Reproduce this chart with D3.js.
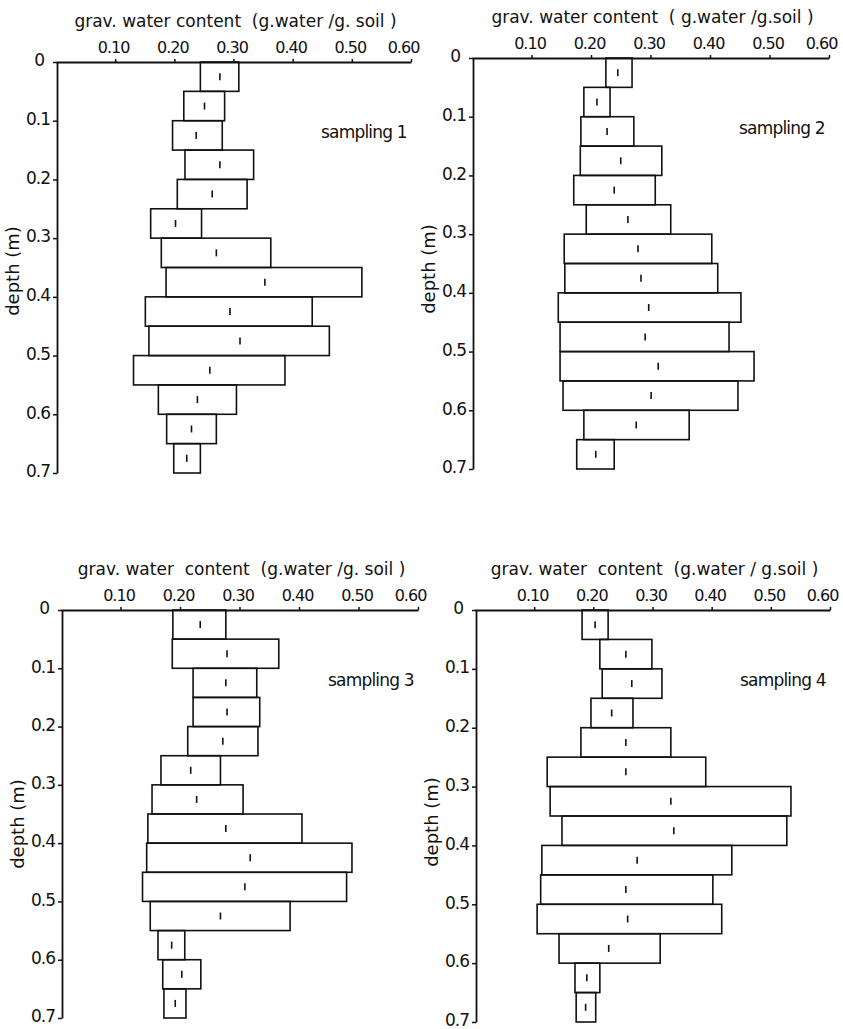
<!DOCTYPE html>
<html>
<head>
<meta charset="utf-8">
<script src="https://cdn.jsdelivr.net/npm/d3@7"></script>
<style>
  html, body { margin: 0; padding: 0; background: #fff; }
  svg { display: block; }
  text { font-family: "DejaVu Sans", "Liberation Sans", sans-serif; fill: #111; }
</style>
</head>
<body>
<svg id="chart" width="843" height="1029"></svg>
<script>
// Soil layers: top depth of each 0.05 m layer (m)
const layerTops = [0, 0.05, 0.10, 0.15, 0.20, 0.25, 0.30, 0.35, 0.40, 0.45, 0.50, 0.55, 0.60, 0.65];
const layerThickness = 0.05;

// Gravimetric water content (g water / g soil) per layer: minimum, maximum, mean
const s1Min  = [0.244, 0.216, 0.197, 0.218, 0.205, 0.160, 0.178, 0.186, 0.151, 0.157, 0.131, 0.173, 0.187, 0.199];
const s1Max  = [0.309, 0.285, 0.281, 0.334, 0.323, 0.246, 0.363, 0.517, 0.433, 0.462, 0.387, 0.305, 0.271, 0.244];
const s1Mean = [0.277, 0.251, 0.237, 0.277, 0.264, 0.202, 0.271, 0.353, 0.294, 0.311, 0.260, 0.239, 0.229, 0.221];

const s2Min  = [0.225, 0.188, 0.183, 0.182, 0.171, 0.192, 0.155, 0.156, 0.145, 0.148, 0.148, 0.153, 0.188, 0.176];
const s2Max  = [0.269, 0.232, 0.272, 0.319, 0.308, 0.334, 0.403, 0.413, 0.452, 0.432, 0.474, 0.447, 0.365, 0.239];
const s2Mean = [0.245, 0.210, 0.227, 0.250, 0.239, 0.262, 0.279, 0.284, 0.297, 0.291, 0.313, 0.301, 0.276, 0.208];

const s3Min  = [0.188, 0.187, 0.222, 0.222, 0.213, 0.168, 0.153, 0.146, 0.144, 0.137, 0.150, 0.163, 0.171, 0.173];
const s3Max  = [0.277, 0.366, 0.329, 0.334, 0.331, 0.268, 0.306, 0.405, 0.489, 0.480, 0.385, 0.208, 0.235, 0.210];
const s3Mean = [0.234, 0.279, 0.277, 0.279, 0.272, 0.218, 0.228, 0.277, 0.318, 0.309, 0.268, 0.186, 0.203, 0.192];

const s4Min  = [0.181, 0.211, 0.215, 0.196, 0.179, 0.122, 0.127, 0.147, 0.113, 0.111, 0.105, 0.142, 0.169, 0.171];
const s4Max  = [0.225, 0.299, 0.316, 0.267, 0.331, 0.390, 0.534, 0.527, 0.434, 0.402, 0.417, 0.313, 0.211, 0.204];
const s4Mean = [0.203, 0.255, 0.265, 0.231, 0.255, 0.255, 0.331, 0.336, 0.274, 0.255, 0.258, 0.226, 0.189, 0.187];

// Axis ticks and labels
const xTicks = [0.10, 0.20, 0.30, 0.40, 0.50, 0.60];
const yTicks = [0, 0.1, 0.2, 0.3, 0.4, 0.5, 0.6, 0.7];
const samplingLabels = ["sampling 1", "sampling 2", "sampling 3", "sampling 4"];
const xTitles = [
  "grav. water content  (g.water /g. soil )",
  "grav. water content  ( g.water /g.soil )",
  "grav. water  content  (g.water /g. soil )",
  "grav. water  content  (g.water / g.soil )"
];
const yTitle = "depth (m)";

const series = [
  { min: s1Min, max: s1Max, mean: s1Mean },
  { min: s2Min, max: s2Max, mean: s2Mean },
  { min: s3Min, max: s3Max, mean: s3Mean },
  { min: s4Min, max: s4Max, mean: s4Mean }
];

// Panel placement: origin of each plot frame and its extent in pixels
const panels = [
  { left: 56,  top: 62,  width: 355, height: 411, depthLabelY: 271 },
  { left: 472, top: 58,  width: 357, height: 411, depthLabelY: 269 },
  { left: 61,  top: 610, width: 357, height: 408, depthLabelY: 824 },
  { left: 475, top: 610, width: 355, height: 412, depthLabelY: 822 }
];

const svg = d3.select("#chart");
const ink = "#111";

panels.forEach((p, i) => {
  const data = layerTops.map((d, k) => ({
    top: d,
    bottom: d + layerThickness,
    min: series[i].min[k],
    max: series[i].max[k],
    mean: series[i].mean[k]
  }));

  const x = d3.scaleLinear().domain([0, 0.6]).range([p.left, p.left + p.width]);
  const y = d3.scaleLinear().domain([0, 0.7]).range([p.top, p.top + p.height]);

  const g = svg.append("g");

  // Top axis: water content
  const xAxis = g.append("g")
    .attr("transform", `translate(0,${p.top})`)
    .call(d3.axisTop(x)
      .tickValues(xTicks)
      .tickFormat(d3.format(".2f"))
      .tickSize(3)
      .tickSizeOuter(0)
      .tickPadding(6));
  xAxis.select(".domain").attr("stroke", ink).attr("stroke-width", 1.8);
  xAxis.selectAll(".tick line").attr("stroke", ink).attr("stroke-width", 1.5);
  xAxis.selectAll(".tick text")
    .attr("fill", ink)
    .attr("dx", d => d >= 0.6 ? -8 : -2)
    .style("font-size", "16px")
    .style("letter-spacing", "-1px");

  // Left axis: depth
  const yAxis = g.append("g")
    .attr("transform", `translate(${p.left + 1},0)`)
    .call(d3.axisLeft(y)
      .tickValues(yTicks)
      .tickFormat(d => d === 0 ? "0" : d3.format(".1f")(d))
      .tickSize(4)
      .tickSizeOuter(0)
      .tickPadding(3));
  yAxis.select(".domain").attr("stroke", ink).attr("stroke-width", 1.8);
  yAxis.selectAll(".tick line").attr("stroke", ink).attr("stroke-width", 1.5);
  yAxis.selectAll(".tick text")
    .attr("fill", ink)
    .attr("dy", "0.22em")
    .style("font-size", "17px")
    .style("letter-spacing", "-1px");
  // the "0" label sits a little further out than the others
  yAxis.selectAll(".tick").filter(d => d === 0).select("text").attr("x", -13);

  // Axis titles
  g.append("text")
    .attr("x", p.left + p.width / 2 + 2)
    .attr("y", p.top - 35)
    .attr("text-anchor", "middle")
    .style("font-size", "17px")
    .style("white-space", "pre")
    .attr("xml:space", "preserve")
    .text(xTitles[i]);

  g.append("text")
    .attr("transform", `translate(${p.left - 37},${p.depthLabelY}) rotate(-90)`)
    .attr("text-anchor", "middle")
    .style("font-size", "18px")
    .text(yTitle);

  // Sampling label
  g.append("text")
    .attr("x", p.left + p.width - 90)
    .attr("y", p.top + 76)
    .style("font-size", "17px")
    .style("letter-spacing", "-0.8px")
    .text(samplingLabels[i]);

  // Range boxes (min to max per layer)
  g.selectAll("rect.range")
    .data(data)
    .join("rect")
    .attr("class", "range")
    .attr("x", d => x(d.min))
    .attr("y", d => y(d.top))
    .attr("width", d => x(d.max) - x(d.min))
    .attr("height", d => y(d.bottom) - y(d.top))
    .attr("fill", "none")
    .attr("stroke", ink)
    .attr("stroke-width", 1.6);

  // Mean markers
  g.selectAll("line.mean")
    .data(data)
    .join("line")
    .attr("class", "mean")
    .attr("x1", d => x(d.mean))
    .attr("x2", d => x(d.mean))
    .attr("y1", d => y((d.top + d.bottom) / 2) - 3.5)
    .attr("y2", d => y((d.top + d.bottom) / 2) + 3.5)
    .attr("stroke", ink)
    .attr("stroke-width", 1.6);
});
</script>
</body>
</html>
